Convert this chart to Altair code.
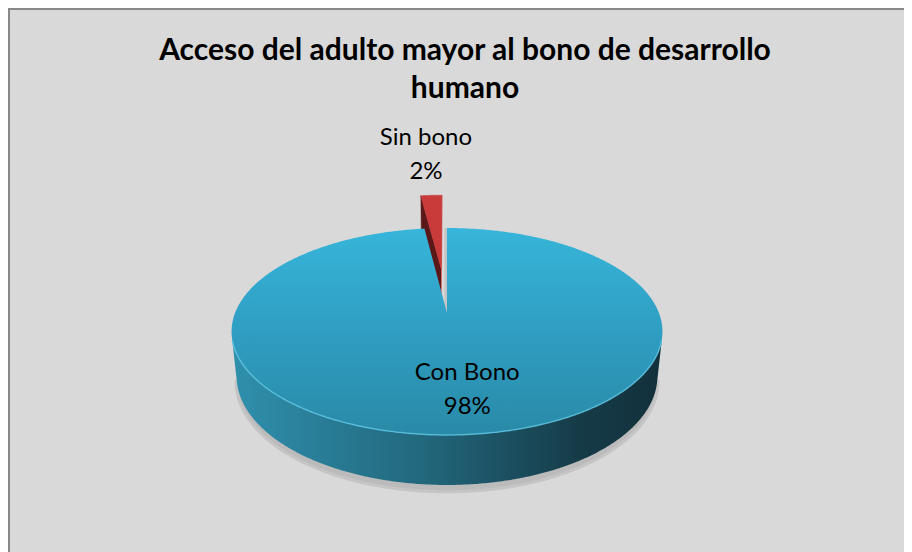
import altair as alt
import pandas as pd
import numpy as np

# ---------------- data ----------------
categories = ["Con Bono", "Sin bono"]
percent = [98, 2]
explode = [0.0, 0.49]          # Sin bono slice pulled out
title_lines = ["Acceso del adulto mayor al bono de desarrollo", "humano"]

# ---------------- view / style ----------------
W, H = 896, 560
CX, CY = 439, 305              # pie centre in chart pixels
F = 1045.0                     # focal length
D = 4.93                       # camera distance (pie radius = 1)
PHI = np.radians(28.2)         # tilt
HGT = 0.241                    # pie thickness
FONT = "Lato"
LABEL_R = [0.677, 1.71]
LABEL_DX = [10, 0]


def project(X, Y, Z):
    yc = Z * np.sin(PHI) + Y * np.cos(PHI)
    zc = D + Z * np.cos(PHI) - Y * np.sin(PHI)
    return F * X / zc, F * yc / zc


rows = []


def add(poly, pts):
    for k, (X, Y, Z) in enumerate(pts):
        u, v = project(X, Y, Z)
        rows.append(dict(poly=poly, ord=k, u=float(u), v=float(v)))


def arc(a0, a1, Y, off=(0.0, 0.0), r=1.0):
    n = max(3, int(abs(a1 - a0)) * 2 + 2)
    th = np.radians(np.linspace(a0, a1, n))
    return [(off[0] + r * np.sin(t), Y, off[1] + r * np.cos(t)) for t in th]


total = sum(percent)
starts = np.cumsum([0] + percent[:-1]) / total * 360.0
spans = np.array(percent) / total * 360.0

# visible range of the outer wall
cmax = -1.0 / (D * np.cos(PHI))
vis_lo = np.degrees(np.arccos(cmax))
vis_hi = 360.0 - vis_lo

labels = []
for i, cat in enumerate(categories):
    a0, a1 = starts[i], starts[i] + spans[i]
    am = np.radians((a0 + a1) / 2)
    off = (explode[i] * np.sin(am), explode[i] * np.cos(am))
    ct = (off[0], 0.0, off[1])
    cb = (off[0], -HGT, off[1])
    if explode[i] > 0:
        add(f"{i}_left", [ct, arc(a0, a0, 0, off)[0], arc(a0, a0, -HGT, off)[0], cb])
        add(f"{i}_right", [ct, arc(a1, a1, 0, off)[0], arc(a1, a1, -HGT, off)[0], cb])
    else:
        # radial face seen through the gap left by the pulled-out slice
        add(f"{i}_face", [ct, arc(a0, a0, 0, off)[0], arc(a0, a0, -HGT, off)[0], cb])
    lo, hi = max(a0, vis_lo), min(a1, vis_hi)
    if hi > lo:
        add(f"{i}_shadow", arc(lo - 4, hi + 4, -HGT - 0.03, off, 1.005))
        add(f"{i}_side", arc(lo, hi, 0, off) + arc(hi, lo, -HGT, off))
        add(f"{i}_rim", arc(lo + 2, hi - 2, 0, off))
    add(f"{i}_top", [ct] + arc(a0, a1, 0, off) + [ct])
    rr = explode[i] + LABEL_R[i]
    lu, lv = project(rr * np.sin(am), 0.0, rr * np.cos(am))
    labels.append(dict(text=f"{cat}\n{percent[i]}%", u=float(lu) + LABEL_DX[i], v=float(lv)))

df = pd.DataFrame(rows)
lab = pd.DataFrame(labels)

xs = alt.Scale(domain=[-CX, W - CX], range=[0, W])
ys = alt.Scale(domain=[CY - H, CY], range=[H, 0])

base = alt.Chart(df).encode(
    x=alt.X("u:Q", scale=xs, axis=None),
    y=alt.Y("v:Q", scale=ys, axis=None),
    order=alt.Order("ord:Q"),
)


def poly(name, **mk):
    return base.transform_filter(alt.datum.poly == name).mark_line(**mk)


top_grad = alt.Gradient(
    gradient="linear",
    stops=[alt.GradientStop(color="#37B5DA", offset=0),
           alt.GradientStop(color="#2F9EC2", offset=0.5),
           alt.GradientStop(color="#2A8AA7", offset=1)],
    x1=0, x2=0, y1=0, y2=1)
side_grad = alt.Gradient(
    gradient="linear",
    stops=[alt.GradientStop(color="#2F90AD", offset=0),
           alt.GradientStop(color="#22677C", offset=0.45),
           alt.GradientStop(color="#163C49", offset=0.8),
           alt.GradientStop(color="#12303B", offset=1)],
    x1=0, x2=1, y1=0, y2=0)

layers = [
    poly("0_shadow", fill="#AFAFAF", stroke="#BDBDBD", strokeWidth=3, opacity=0.7),
    poly("1_left", fill="#5A1818", stroke="#5A1818", strokeWidth=0.5),
    poly("1_right", fill="#D04545", stroke="#D04545", strokeWidth=0.5),
    poly("1_top", fill="#C93B3B", stroke="#C93B3B", strokeWidth=0.5),
    poly("0_face", fill="#BDBDBD", stroke="#C4C4C4", strokeWidth=5),
    poly("0_side", fill=side_grad, strokeWidth=0),
    poly("0_top", fill=top_grad, strokeWidth=0),
    poly("0_rim", stroke="#5CC6E4", strokeWidth=1.5, opacity=0.8),
]

label_layer = alt.Chart(lab).mark_text(
    font=FONT, fontSize=24, color="#000000", lineBreak="\n", lineHeight=34,
    align="center", baseline="middle", dy=-17,
).encode(
    x=alt.X("u:Q", scale=xs, axis=None),
    y=alt.Y("v:Q", scale=ys, axis=None),
    text="text:N",
)

title_layer = alt.Chart(pd.DataFrame({"t": [0]})).mark_text(
    font=FONT, fontSize=30, fontWeight="bold", color="#000000", lineHeight=38,
    align="center", baseline="alphabetic",
).encode(x=alt.value(457), y=alt.value(52), text=alt.value(title_lines))

frame = pd.DataFrame({"t": [0]})
top_border = alt.Chart(frame).mark_rule(color="#888888", strokeWidth=2).encode(
    x=alt.value(0), x2=alt.value(W), y=alt.value(1))
left_border = alt.Chart(frame).mark_rule(color="#888888", strokeWidth=2).encode(
    x=alt.value(1), y=alt.value(0), y2=alt.value(H))

chart = alt.layer(*layers, label_layer, title_layer, top_border, left_border).properties(
    width=W, height=H, padding=0, autosize=alt.AutoSizeParams(type="none"),
    background="#D9D9D9",
).configure_view(strokeWidth=0)

chart.save("out.html", embed_options={"renderer": "svg", "actions": False})
